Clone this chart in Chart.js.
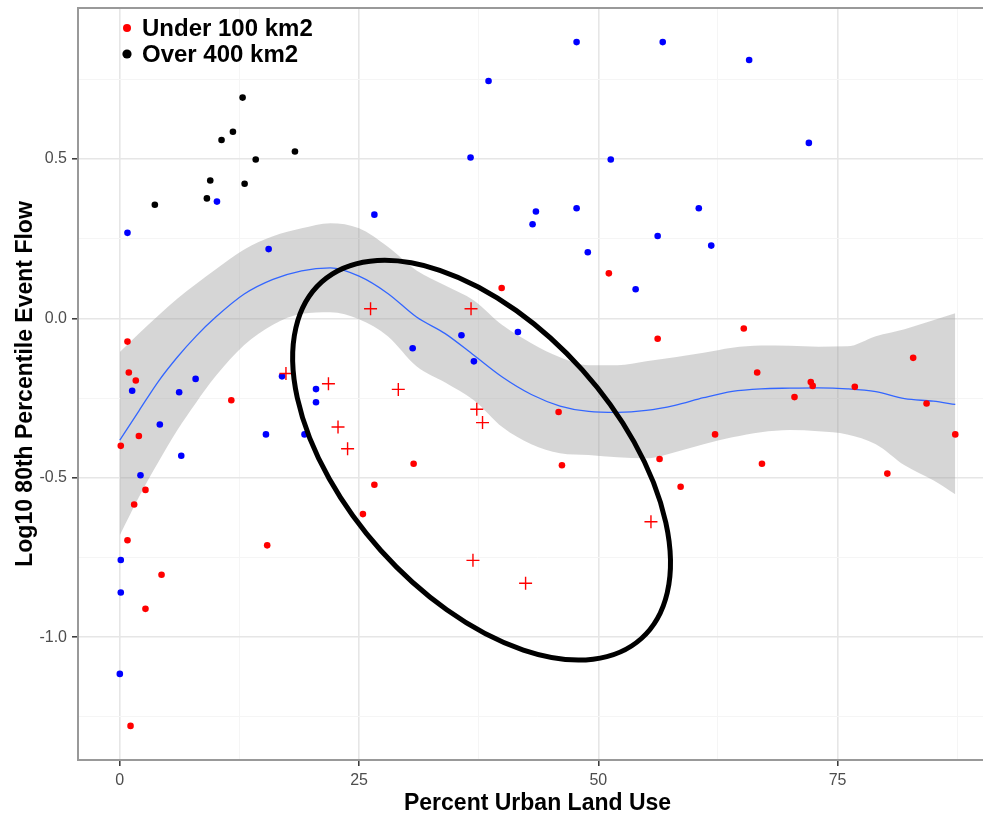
<!DOCTYPE html>
<html>
<head>
<meta charset="utf-8">
<script src="https://cdn.jsdelivr.net/npm/chart.js@4.4.1/dist/chart.umd.min.js"></script>
<style>
    html, body { margin: 0; padding: 0; background: #fff; overflow: hidden; }
    #wrap { width: 1005px; height: 813px; }
</style>
</head>
<body>
<div id="wrap"><canvas id="chart" width="1005" height="813"></canvas></div>
<script>
// Texts
const legendLabels = ['Under 100 km2', 'Over 400 km2'];
const xTitle = 'Percent Urban Land Use';
const yTitle = 'Log10 80th Percentile Event Flow';

// Axes
const xLimits = [-4.37, 91.67];
const yLimits = [-1.385, 0.973];
const xMajor = [0, 25, 50, 75];
const xMinor = [12.5, 37.5, 62.5, 87.5];
const xLabels = ['0', '25', '50', '75'];
const yMajor = [-1.0, -0.5, 0, 0.5];
const yMinor = [-1.25, -0.75, -0.25, 0.25, 0.75];
const yLabels = ['-1.0', '-0.5', '0.0', '0.5'];

// Watersheds under 100 km2 (dots)
const underDots = [
    [51.1, 0.141], [39.9, 0.095], [56.2, -0.064], [45.85, -0.294], [62.2, -0.364],
    [30.7, -0.456], [46.2, -0.461], [56.4, -0.441], [58.6, -0.528], [65.2, -0.032],
    [66.6, -0.170], [72.2, -0.200], [72.4, -0.212], [70.5, -0.247], [76.8, -0.215],
    [82.9, -0.124], [84.3, -0.267], [87.3, -0.364], [67.1, -0.456], [80.2, -0.487],
    [0.8, -0.073], [0.94, -0.170], [1.67, -0.195], [11.65, -0.257], [1.99, -0.369],
    [0.1, -0.400], [2.68, -0.538], [1.5, -0.584], [0.8, -0.696], [15.4, -0.712],
    [26.6, -0.522], [25.4, -0.614], [4.36, -0.804], [2.68, -0.911], [1.12, -1.278]
];

// Watersheds under 100 km2 (crosses)
const underCrosses = [
    [17.36, -0.173], [21.8, -0.205], [26.2, 0.030], [29.1, -0.223], [22.8, -0.341],
    [23.8, -0.409], [36.7, 0.030], [37.3, -0.285], [37.9, -0.327], [55.5, -0.638],
    [36.9, -0.759], [42.4, -0.831]
];

// Watersheds over 400 km2
const overDots = [
    [12.83, 0.692], [11.82, 0.585], [10.63, 0.559], [18.3, 0.523], [14.2, 0.498],
    [9.45, 0.432], [13.04, 0.422], [9.1, 0.376], [3.66, 0.356]
];

// Watersheds 100-400 km2
const midDots = [
    [10.15, 0.366], [0.8, 0.268], [15.55, 0.217], [26.6, 0.325], [47.73, 0.866],
    [56.73, 0.866], [38.53, 0.744], [36.65, 0.504], [51.3, 0.498], [43.48, 0.335],
    [47.73, 0.345], [43.13, 0.295], [60.5, 0.345], [56.2, 0.258], [61.8, 0.228],
    [48.9, 0.207], [65.76, 0.81], [72.0, 0.55], [53.9, 0.091], [35.7, -0.053],
    [41.6, -0.043], [30.6, -0.094], [37.0, -0.135], [1.29, -0.227], [6.2, -0.232],
    [7.92, -0.190], [16.95, -0.182], [20.5, -0.222], [20.5, -0.263], [15.27, -0.364],
    [19.3, -0.364], [4.18, -0.333], [6.42, -0.431], [2.16, -0.492], [0.1, -0.758],
    [0.1, -0.860], [0, -1.115]
];

// Loess fit with confidence band
const smoothX = [0, 2, 4, 6, 8, 10, 13, 16, 19, 22, 25, 28, 31, 34, 37, 40, 43, 46, 49, 52, 55, 58, 61, 64, 67, 70, 73, 76, 79, 82, 85, 87.3];
const smoothFit = [-0.382, -0.290, -0.199, -0.122, -0.055, 0.003, 0.076, 0.122, 0.149, 0.158, 0.132, 0.078, 0.004, -0.048, -0.116, -0.185,
    -0.239, -0.275, -0.292, -0.295, -0.289, -0.273, -0.249, -0.229, -0.221, -0.219, -0.218, -0.221, -0.230, -0.252, -0.260, -0.270];
const smoothHi = [-0.106, -0.048, 0.008, 0.061, 0.108, 0.153, 0.216, 0.257, 0.282, 0.298, 0.282, 0.224, 0.150, 0.103, 0.056, -0.022,
    -0.078, -0.122, -0.147, -0.147, -0.135, -0.122, -0.108, -0.092, -0.085, -0.086, -0.089, -0.088, -0.056, -0.034, -0.006, 0.016];
const smoothLo = [-0.680, -0.560, -0.452, -0.351, -0.263, -0.182, -0.084, -0.020, 0.014, 0.019, -0.003, -0.056, -0.150, -0.201, -0.257, -0.342,
    -0.395, -0.423, -0.429, -0.436, -0.439, -0.420, -0.395, -0.373, -0.357, -0.350, -0.354, -0.364, -0.395, -0.461, -0.508, -0.552];

// Hand-drawn highlight ring: centre, end of long axis (data units), short/long ratio
const ringCenter = [37.8, -0.445];
const ringTip = [54.5, -1.004];
const ringRatio = 0.565;

const FONT = "'Liberation Sans', Arial, sans-serif";
const toPoints = arr => arr.map(p => ({ x: p[0], y: p[1] }));
const curve = ys => smoothX.map((x, i) => ({ x: x, y: ys[i] }));
const isMajor = (list, v) => list.some(m => Math.abs(m - v) < 1e-6);

// Ring, inside legend and panel border
const panelPlugin = {
    id: 'panel',
    afterDatasetsDraw(chart) {
        const { ctx, chartArea: a, scales: { x, y } } = chart;
        ctx.save();

        const cx = x.getPixelForValue(ringCenter[0]);
        const cy = y.getPixelForValue(ringCenter[1]);
        const tx = x.getPixelForValue(ringTip[0]);
        const ty = y.getPixelForValue(ringTip[1]);
        const r = Math.hypot(tx - cx, ty - cy);
        ctx.beginPath();
        ctx.ellipse(cx, cy, r, r * ringRatio, Math.atan2(ty - cy, tx - cx), 0, Math.PI * 2);
        ctx.lineWidth = 5;
        ctx.strokeStyle = '#000';
        ctx.stroke();

        const colors = ['#ff0000', '#000000'];
        ctx.font = 'bold 24px ' + FONT;
        ctx.textBaseline = 'middle';
        ctx.textAlign = 'left';
        legendLabels.forEach((label, i) => {
            const ly = a.top + 20 + i * 26;
            ctx.beginPath();
            ctx.arc(a.left + 49, ly, i === 0 ? 4 : 4.6, 0, Math.PI * 2);
            ctx.fillStyle = colors[i];
            ctx.fill();
            ctx.fillStyle = '#000';
            ctx.fillText(label, a.left + 64, ly + 1.5);
        });

        ctx.strokeStyle = '#999';
        ctx.lineWidth = 2;
        ctx.strokeRect(a.left, a.top, a.right - a.left, a.bottom - a.top);
        ctx.restore();
    }
};

const gridFor = major => ({
    color: c => isMajor(major, c.tick.value) ? '#e6e6e6' : '#f5f5f5',
    lineWidth: c => isMajor(major, c.tick.value) ? 1.6 : 1,
    tickColor: c => isMajor(major, c.tick.value) ? '#333' : 'rgba(0,0,0,0)',
    tickWidth: 1.5,
    tickLength: 6,
    drawTicks: true
});

new Chart(document.getElementById('chart'), {
    type: 'scatter',
    data: {
        datasets: [
            {
                label: legendLabels[0],
                data: toPoints(underDots),
                pointStyle: 'circle',
                pointRadius: 3.3,
                backgroundColor: '#ff0000',
                borderWidth: 0,
                order: 1
            },
            {
                label: 'crosses',
                data: toPoints(underCrosses),
                pointStyle: 'cross',
                pointRadius: 6.5,
                borderColor: '#ff0000',
                borderWidth: 1.4,
                order: 1
            },
            {
                label: legendLabels[1],
                data: toPoints(overDots),
                pointStyle: 'circle',
                pointRadius: 3.3,
                backgroundColor: '#000000',
                borderWidth: 0,
                order: 1
            },
            {
                label: '100-400 km2',
                data: toPoints(midDots),
                pointStyle: 'circle',
                pointRadius: 3.3,
                backgroundColor: '#0000ff',
                borderWidth: 0,
                order: 1
            },
            {
                type: 'line',
                label: 'fit',
                data: curve(smoothFit),
                borderColor: '#3366ff',
                borderWidth: 1.3,
                pointRadius: 0,
                cubicInterpolationMode: 'monotone',
                fill: false,
                order: 2
            },
            {
                type: 'line',
                label: 'upper',
                data: curve(smoothHi),
                borderWidth: 0,
                pointRadius: 0,
                cubicInterpolationMode: 'monotone',
                fill: false,
                order: 3
            },
            {
                type: 'line',
                label: 'lower',
                data: curve(smoothLo),
                borderWidth: 0,
                pointRadius: 0,
                cubicInterpolationMode: 'monotone',
                backgroundColor: 'rgba(153,153,153,0.4)',
                fill: '-1',
                order: 3
            }
        ]
    },
    options: {
        responsive: false,
        animation: false,
        events: [],
        layout: { padding: { top: 8, right: 0, bottom: 0, left: 0 } },
        plugins: {
            legend: { display: false },
            tooltip: { enabled: false }
        },
        scales: {
            x: {
                type: 'linear',
                min: xLimits[0],
                max: xLimits[1],
                afterBuildTicks: s => { s.ticks = xMajor.concat(xMinor).sort((a, b) => a - b).map(v => ({ value: v })); },
                afterFit: s => { s.height = 53; s.paddingLeft = 0; s.paddingRight = 0; },
                ticks: {
                    autoSkip: false,
                    maxRotation: 0,
                    padding: 5,
                    color: '#4d4d4d',
                    font: { family: FONT, size: 16 },
                    callback: v => { const i = xMajor.findIndex(m => Math.abs(m - v) < 1e-6); return i >= 0 ? xLabels[i] : ''; }
                },
                grid: gridFor(xMajor),
                border: { display: false },
                title: {
                    display: true,
                    text: xTitle,
                    color: '#000',
                    font: { family: FONT, size: 23, weight: 'bold', lineHeight: 0.82 },
                    padding: 0
                }
            },
            y: {
                type: 'linear',
                min: yLimits[0],
                max: yLimits[1],
                afterBuildTicks: s => { s.ticks = yMajor.concat(yMinor).sort((a, b) => a - b).map(v => ({ value: v })); },
                afterFit: s => { s.width = 78; s.paddingTop = 0; s.paddingBottom = 0; },
                ticks: {
                    autoSkip: false,
                    padding: 5,
                    color: '#4d4d4d',
                    font: { family: FONT, size: 16 },
                    callback: v => { const i = yMajor.findIndex(m => Math.abs(m - v) < 1e-6); return i >= 0 ? yLabels[i] : ''; }
                },
                grid: gridFor(yMajor),
                border: { display: false },
                title: {
                    display: true,
                    text: yTitle,
                    color: '#000',
                    font: { family: FONT, size: 23, weight: 'bold', lineHeight: 1.2 },
                    padding: { top: 12, bottom: 0 }
                }
            }
        }
    },
    plugins: [panelPlugin]
});
</script>
</body>
</html>
